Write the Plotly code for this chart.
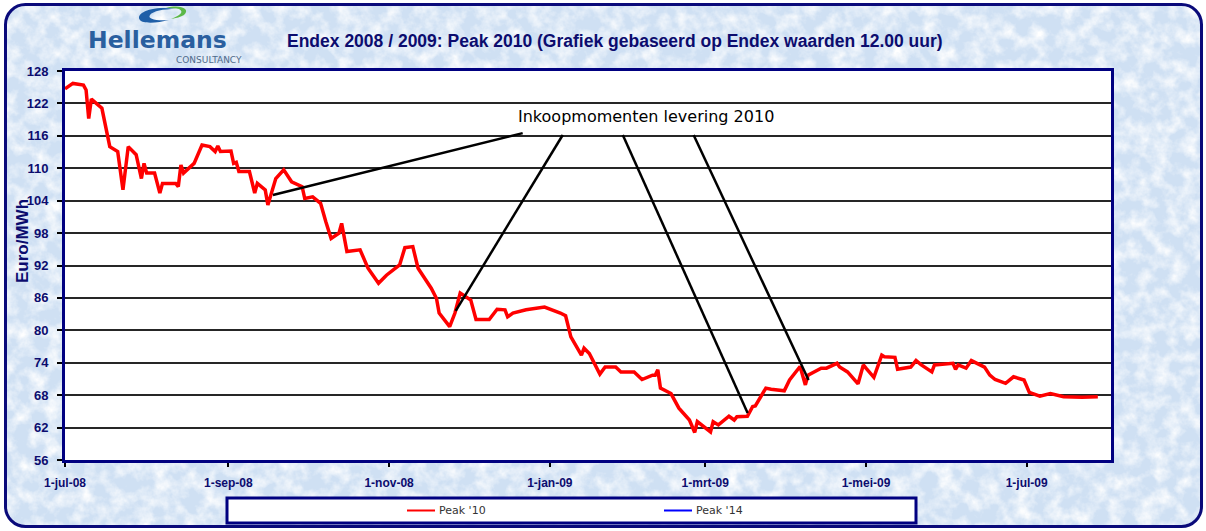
import base64
import plotly.graph_objects as go

# ---------------- data ----------------
dates = (
    ["2008-07-01", "2008-07-04", "2008-07-08", "2008-07-09", "2008-07-10", "2008-07-11", "2008-07-15",
     "2008-07-16", "2008-07-18", "2008-07-21", "2008-07-23", "2008-07-25", "2008-07-28", "2008-07-30",
     "2008-07-31"]
    + ["2008-08-01", "2008-08-04", "2008-08-06", "2008-08-07", "2008-08-12", "2008-08-13", "2008-08-14",
       "2008-08-15", "2008-08-19", "2008-08-22", "2008-08-25", "2008-08-27", "2008-08-28", "2008-08-29"]
    + ["2008-09-02", "2008-09-03", "2008-09-04", "2008-09-05", "2008-09-09", "2008-09-11", "2008-09-12",
       "2008-09-15", "2008-09-16", "2008-09-19", "2008-09-22", "2008-09-25", "2008-09-29", "2008-09-30"]
    + ["2008-10-03", "2008-10-06", "2008-10-08", "2008-10-10", "2008-10-13", "2008-10-14", "2008-10-16",
       "2008-10-21", "2008-10-24", "2008-10-28", "2008-10-31"]
    + ["2008-11-05", "2008-11-07", "2008-11-10", "2008-11-12", "2008-11-17", "2008-11-19", "2008-11-20",
       "2008-11-24", "2008-11-26", "2008-11-28"]
    + ["2008-12-02", "2008-12-04", "2008-12-09", "2008-12-12", "2008-12-15", "2008-12-16", "2008-12-18",
       "2008-12-23", "2008-12-30"]
    + ["2009-01-05", "2009-01-07", "2009-01-09", "2009-01-13", "2009-01-14", "2009-01-16", "2009-01-20",
       "2009-01-22", "2009-01-26", "2009-01-28"]
    + ["2009-02-02", "2009-02-05", "2009-02-09", "2009-02-10", "2009-02-11", "2009-02-12", "2009-02-16",
       "2009-02-19", "2009-02-23", "2009-02-25", "2009-02-26"]
    + ["2009-03-03", "2009-03-04", "2009-03-06", "2009-03-10", "2009-03-12", "2009-03-13", "2009-03-17",
       "2009-03-19", "2009-03-20", "2009-03-24", "2009-03-26", "2009-03-31"]
    + ["2009-04-02", "2009-04-06", "2009-04-08", "2009-04-09", "2009-04-14", "2009-04-16", "2009-04-20",
       "2009-04-21", "2009-04-24", "2009-04-28", "2009-04-30"]
    + ["2009-05-01", "2009-05-04", "2009-05-07", "2009-05-08", "2009-05-12", "2009-05-13", "2009-05-18",
       "2009-05-20", "2009-05-22", "2009-05-26", "2009-05-27"]
    + ["2009-06-01", "2009-06-03", "2009-06-04", "2009-06-05", "2009-06-08", "2009-06-10", "2009-06-15",
       "2009-06-17", "2009-06-19", "2009-06-23", "2009-06-26", "2009-06-30"]
    + ["2009-07-02", "2009-07-06", "2009-07-10", "2009-07-15", "2009-07-22", "2009-07-28"]
)

peak10 = (
    [124.7, 125.7, 125.4, 124.5, 119.2, 122.8, 121.1, 118.6, 114.0, 113.1, 106.0, 114.0, 112.5, 108.1, 110.9]
    + [109.1, 109.1, 105.4, 107.2, 107.2, 106.6, 110.6, 109.1, 110.9, 114.3, 114.0, 113.1, 114.1, 113.1]
    + [113.2, 110.9, 111.1, 109.4, 109.4, 105.4, 107.2, 106.0, 103.2, 108.1, 109.7, 107.5, 106.6, 104.4]
    + [104.7, 103.5, 100.1, 97.0, 98.0, 99.8, 94.6, 94.9, 91.5, 88.7, 90.2]
    + [92.1, 95.3, 95.5, 91.5, 87.8, 85.9, 83.2, 80.7, 83.2, 86.9]
    + [85.6, 82.0, 82.0, 83.9, 83.8, 82.5, 83.2, 83.8, 84.3]
    + [83.2, 82.7, 78.8, 75.4, 76.7, 75.7, 71.9, 73.2, 73.2, 72.3]
    + [72.3, 70.9, 71.7, 71.7, 72.7, 69.3, 68.3, 65.6, 63.4, 61.1, 63.1]
    + [61.2, 63.1, 62.5, 64.1, 63.4, 64.0, 64.1, 65.9, 66.0, 69.3, 69.1, 68.8]
    + [70.8, 73.3, 69.9, 71.7, 73.0, 73.0, 73.9, 73.2, 72.3, 70.1, 73.6]
    + [73.0, 71.3, 75.4, 75.1, 75.0, 72.8, 73.2, 74.4, 73.6, 72.3, 73.6]
    + [73.9, 73.9, 72.8, 73.6, 73.0, 74.4, 73.2, 71.7, 70.9, 70.2, 71.4, 70.8]
    + [68.5, 67.8, 68.3, 67.7, 67.6, 67.7]
)

peak14_dates = []
peak14 = []

series_names = ["Peak '10", "Peak '14"]
series_colors = ["#FF0000", "#0000FF"]

x_tickvals = ["2008-07-01", "2008-09-01", "2008-11-01", "2009-01-01", "2009-03-01", "2009-05-01", "2009-07-01"]
x_ticktext = ["1-jul-08", "1-sep-08", "1-nov-08", "1-jan-09", "1-mrt-09", "1-mei-09", "1-jul-09"]
x_range = ["2008-07-01", "2009-08-02"]
y_range = [56, 128]
y_step = 6

title_text = "Endex 2008 / 2009: Peak 2010 (Grafiek gebaseerd op Endex waarden 12.00 uur)"
y_title = "Euro/MWh"
callout_text = "Inkoopmomenten levering 2010"
# callout pointer lines: (start date, start value) -> (end date, end value)
callout_lines = [
    (("2008-12-21 17:00", 116.5), ("2008-09-17 22:00", 105.05)),
    (("2009-01-05 22:00", 116.15), ("2008-11-26 07:00", 83.6)),
    (("2009-01-28 17:00", 116.15), ("2009-03-17 02:00", 64.7)),
    (("2009-02-24 14:00", 116.15), ("2009-04-09 05:00", 70.8)),
]

# ---------------- geometry ----------------
W, H = 1206, 531
L, R, T, B = 65, 1111, 71, 460
NAVY = "#000080"


def px(X):
    return (X - L) / (R - L)


def py(Y):
    return (B - Y) / (B - T)


# ---------------- textured background as inline svg ----------------
svg = f"""<svg xmlns='http://www.w3.org/2000/svg' width='{W}' height='{H}' viewBox='0 0 {W} {H}'>
<defs>
<filter id='t' x='0' y='0' width='100%' height='100%'>
<feTurbulence type='fractalNoise' baseFrequency='0.065' numOctaves='4' seed='7'/>
<feColorMatrix type='matrix' values='0 0 0 0 1  0 0 0 0 1  0 0 0 0 1  2.0 0 0 0 -0.75'/>
<feComposite in2='SourceGraphic' operator='in'/>
</filter>
</defs>
<rect x='5.5' y='4.5' width='1196' height='522' rx='20' ry='20' fill='#cfe0f3'/>
<rect x='5.5' y='4.5' width='1196' height='522' rx='20' ry='20' fill='white' filter='url(#t)'/>
<rect x='5.5' y='4.5' width='1196' height='522' rx='20' ry='20' fill='none' stroke='#0a0a7a' stroke-width='3'/>
<path d='M176,9 C150,5 135,14 140,20 C143,24 158,23 169,20 C156,21 147,19 150,15 C153,11 163,9 176,9 Z' fill='#1f5fa8'/>
<path d='M166,8 C180,4 191,9 184,15 C181,17 176,18 171,19 C179,16 185,12 179,9 C176,8 171,8 166,8 Z' fill='#5cb848'/>
</svg>"""
bg_src = "data:image/svg+xml;base64," + base64.b64encode(svg.encode()).decode()

fig = go.Figure()

fig.add_trace(go.Scatter(
    x=dates, y=peak10, mode="lines", name=series_names[0],
    line=dict(color=series_colors[0], width=3.5), hoverinfo="x+y",
))
fig.add_trace(go.Scatter(
    x=peak14_dates, y=peak14, mode="lines", name=series_names[1],
    line=dict(color=series_colors[1], width=2),
))

shapes = []
# white plot area above the textured background
shapes.append(dict(type="rect", xref="paper", yref="paper", x0=0, x1=1, y0=0, y1=1,
                   fillcolor="white", line=dict(width=0), layer="below"))
# callout pointer lines
for (x0, y0), (x1, y1) in callout_lines:
    shapes.append(dict(type="line", xref="x", yref="y", x0=x0, y0=y0, x1=x1, y1=y1,
                       line=dict(color="black", width=2.5), layer="above"))
# legend box
shapes.append(dict(type="rect", xref="paper", yref="paper",
                   x0=px(227), x1=px(916), y0=py(498), y1=py(523),
                   fillcolor="white", line=dict(color=NAVY, width=3), layer="above"))
# legend samples
legend_pos = [(407, 435, 437), (664, 692, 694)]
for (lx0, lx1, tx), name, col in zip(legend_pos, series_names, series_colors):
    shapes.append(dict(type="line", xref="paper", yref="paper", x0=px(lx0), x1=px(lx1),
                       y0=py(510.5), y1=py(510.5), line=dict(color=col, width=2), layer="above"))

annotations = []
annotations.append(dict(text=title_text, xref="paper", yref="paper", x=px(285), y=py(41),
                        xanchor="left", yanchor="middle", showarrow=False,
                        font=dict(family="Liberation Sans, Arial", size=17.5, color="#0c0c6e", weight="bold")))
annotations.append(dict(text="Hellemans", xref="paper", yref="paper", x=px(86), y=py(39.5),
                        xanchor="left", yanchor="middle", showarrow=False,
                        font=dict(family="DejaVu Sans", size=23.5, color="#2a5f9f", weight="bold")))
annotations.append(dict(text="CONSULTANCY", xref="paper", yref="paper", x=px(209), y=py(59.5),
                        xanchor="center", yanchor="middle", showarrow=False,
                        font=dict(family="DejaVu Sans", size=9, color="#4f6a8a")))
annotations.append(dict(text=y_title, xref="paper", yref="paper", x=px(22), y=py(241),
                        xanchor="center", yanchor="middle", showarrow=False, textangle=-90,
                        font=dict(family="Liberation Sans, Arial", size=17, color="#0c0c6e", weight="bold")))
annotations.append(dict(text=callout_text, xref="paper", yref="paper", x=px(646), y=py(117),
                        xanchor="center", yanchor="middle", showarrow=False,
                        font=dict(family="DejaVu Sans", size=16, color="black")))
for (lx0, lx1, tx), name in zip(legend_pos, series_names):
    annotations.append(dict(text=name, xref="paper", yref="paper", x=px(tx), y=py(510.5),
                            xanchor="left", yanchor="middle", showarrow=False,
                            font=dict(family="DejaVu Sans", size=11, color="#333333")))

fig.update_layout(
    width=W, height=H,
    margin=dict(l=L, r=W - R, t=T, b=H - B, pad=0),
    paper_bgcolor="white", plot_bgcolor="white",
    showlegend=False,
    images=[dict(source=bg_src, xref="paper", yref="paper", x=px(0), y=py(0),
                 sizex=W / (R - L), sizey=H / (B - T), xanchor="left", yanchor="top",
                 sizing="stretch", layer="below")],
    shapes=shapes,
    annotations=annotations,
    xaxis=dict(
        type="date", range=x_range, tickmode="array", tickvals=x_tickvals, ticktext=x_ticktext,
        ticks="outside", ticklen=4, tickwidth=1.5, tickcolor="#000000",
        showline=True, linewidth=3, linecolor=NAVY, mirror=True,
        showgrid=False, zeroline=False, ticklabelstandoff=6,
        tickfont=dict(family="Liberation Sans, Arial", size=12, color="#0c0c6e", weight="bold"),
    ),
    yaxis=dict(
        range=y_range, tick0=y_range[0], dtick=y_step,
        ticks="outside", ticklen=5, tickwidth=1.5, tickcolor="#000000",
        showline=True, linewidth=3, linecolor=NAVY, mirror=True,
        showgrid=True, gridcolor="#262626", gridwidth=1.5, zeroline=False,
        ticklabelstandoff=6,
        tickfont=dict(family="Liberation Sans, Arial", size=13, color="#0c0c6e", weight="bold"),
    ),
)

fig.write_html(
    "out.html",
    config={"displayModeBar": False},
    post_script="document.body.style.margin='0';document.body.style.overflow='hidden';",
)
